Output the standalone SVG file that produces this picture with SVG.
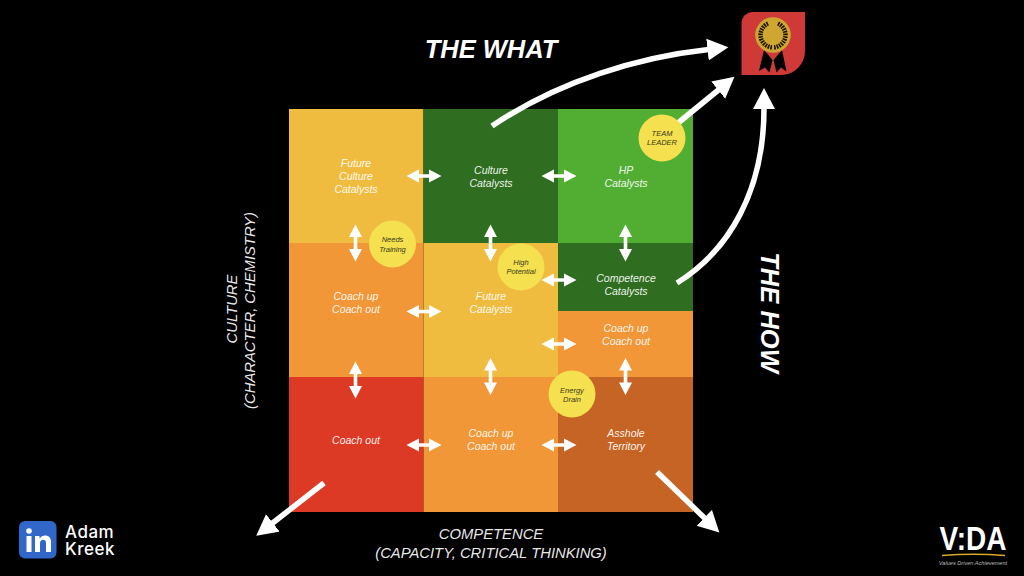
<svg xmlns="http://www.w3.org/2000/svg" width="1024" height="576" viewBox="0 0 1024 576">
<style>
text{font-family:"Liberation Sans",Arial,sans-serif;text-anchor:middle}
.c{font-size:10.5px;font-style:italic;fill:#fff;fill-opacity:.93}
.b{font-size:7.5px;font-style:italic;fill:#3a3a1a}
.h{font-size:25.5px;font-style:italic;font-weight:700;fill:#fff}
.a{font-size:14.8px;font-style:italic;fill:#fff;fill-opacity:.93}
.bub{fill:#f5e050}
.f{fill:none;stroke:#fff;stroke-width:5.5}
.ar{fill:#fff}
.lk{text-anchor:start;font-family:Inter,"Liberation Sans",sans-serif;font-size:17px;font-weight:500;letter-spacing:.5px;fill:#fff}
</style>
<defs>
<path id="dh" d="M-17.5 0L-5 -6.5V-1.8H5V-6.5L17.5 0L5 6.500V1.800H-5V6.500Z"/>
<path id="dv" d="M0 -18.500L6.500 -6H1.800V6H6.500L0 18.500L-6.500 6H-1.800V-6H-6.500Z"/>
<marker id="hd" markerUnits="userSpaceOnUse" markerWidth="24" markerHeight="24" refX="1" refY="11.500" orient="auto"><path d="M0 0.500L21 11.500L0 22.500Z" fill="#fff"/></marker>
</defs>
<rect width="1024" height="576" fill="#000"/>

<g id="cell-future-culture"><rect x="289" y="109" width="134.500" height="134" fill="#f0bc40"/><text class="c" x="356" y="167">Future</text><text class="c" x="356" y="180">Culture</text><text class="c" x="356" y="193">Catalysts</text></g>
<g id="cell-culture"><rect x="423.500" y="109" width="134.500" height="134" fill="#2f6e20"/><text class="c" x="491" y="174">Culture</text><text class="c" x="491" y="187">Catalysts</text></g>
<g id="cell-hp"><rect x="558" y="109" width="135" height="134" fill="#52ae33"/><text class="c" x="626" y="174">HP</text><text class="c" x="626" y="187">Catalysts</text></g>
<g id="cell-coach-1"><rect x="289" y="243" width="134.500" height="134" fill="#f19737"/><text class="c" x="356" y="300">Coach up</text><text class="c" x="356" y="313">Coach out</text></g>
<g id="cell-future"><rect x="423.500" y="243" width="134.500" height="134" fill="#f0bc40"/><text class="c" x="491" y="300">Future</text><text class="c" x="491" y="313">Catalysts</text></g>
<g id="cell-competence"><rect x="558" y="243" width="135" height="68" fill="#2f6e20"/><text class="c" x="626" y="282">Competence</text><text class="c" x="626" y="295">Catalysts</text></g>
<g id="cell-coach-2"><rect x="558" y="311" width="135" height="66" fill="#f19737"/><text class="c" x="626" y="332">Coach up</text><text class="c" x="626" y="345">Coach out</text></g>
<g id="cell-coach-out"><rect x="289" y="377" width="134.500" height="135" fill="#dd3a25"/><text class="c" x="356" y="444">Coach out</text></g>
<g id="cell-coach-3"><rect x="423.500" y="377" width="134.500" height="135" fill="#f19737"/><text class="c" x="491" y="437">Coach up</text><text class="c" x="491" y="450">Coach out</text></g>
<g id="cell-asshole"><rect x="558" y="377" width="135" height="135" fill="#c66425"/><text class="c" x="626" y="437">Asshole</text><text class="c" x="626" y="450">Territory</text></g>

<g id="connectors">
<use href="#dh" class="ar" x="424" y="176"/>
<use href="#dh" class="ar" x="559" y="176"/>
<use href="#dh" class="ar" x="424" y="311.500"/>
<use href="#dh" class="ar" x="559" y="344"/>
<use href="#dh" class="ar" x="559" y="280"/>
<use href="#dh" class="ar" x="424" y="445"/>
<use href="#dh" class="ar" x="559" y="445"/>
<use href="#dv" class="ar" x="355.500" y="243"/>
<use href="#dv" class="ar" x="490.500" y="243"/>
<use href="#dv" class="ar" x="625.500" y="243"/>
<use href="#dv" class="ar" x="355.500" y="380"/>
<use href="#dv" class="ar" x="490.500" y="376.500"/>
<use href="#dv" class="ar" x="625.500" y="376.500"/>
<path class="f" marker-end="url(#hd)" d="M492 126C560 80 640 57 708.500 49.500"/>
<path class="f" marker-end="url(#hd)" d="M678 123L719 89.500"/>
<path class="f" marker-end="url(#hd)" d="M677 283C730 250 764 190 764 108"/>
<path class="f" marker-end="url(#hd)" d="M324 483L272 523.500"/>
<path class="f" marker-end="url(#hd)" d="M657 472L705 518.500"/>
</g>

<g id="bubble-team-leader"><circle class="bub" cx="662" cy="138" r="23.500"/><text class="b" x="662" y="136">TEAM</text><text class="b" x="662" y="145">LEADER</text></g>
<g id="bubble-needs-training"><circle class="bub" cx="392.500" cy="244" r="23.500"/><text class="b" x="392.500" y="242">Needs</text><text class="b" x="392.500" y="251.500">Training</text></g>
<g id="bubble-high-potential"><circle class="bub" cx="521" cy="267" r="23.500"/><text class="b" x="521" y="265">High</text><text class="b" x="521" y="274">Potential</text></g>
<g id="bubble-energy-drain"><circle class="bub" cx="572" cy="394" r="23.500"/><text class="b" x="572" y="393">Energy</text><text class="b" x="572" y="402">Drain</text></g>

<g id="label-what"><text class="h" x="491" y="58">THE WHAT</text></g>
<g id="label-how"><text class="h" transform="translate(761 312.500) rotate(90)">THE HOW</text></g>
<g id="label-culture"><text class="a" transform="translate(236.500 309) rotate(-90)">CULTURE</text><text class="a" transform="translate(255 310.500) rotate(-90)">(CHARACTER, CHEMISTRY)</text></g>
<g id="label-competence"><text class="a" x="491" y="539">COMPETENCE</text><text class="a" x="491" y="558">(CAPACITY, CRITICAL THINKING)</text></g>

<g id="award">
<path d="M753 12H805V51A24 24 0 0 1 781 75H741.500V23.500A11.500 11.500 0 0 1 753 12Z" fill="#cf3a38"/>
<path d="M764 50L759 71L765 67.500L769.500 72.500L772.500 60ZM782 50L786.500 71.500L781 67.500L776.500 72.500L773.500 60Z" fill="#000"/>
<circle cx="773" cy="35" r="17.800" fill="#cfa632"/>
<g fill="none" stroke="#1a1400" stroke-width="4.500" stroke-dasharray="1.600 1"><path d="M768 23.500A12.500 12.500 0 0 0 772 47.400"/><path d="M778 23.500A12.500 12.500 0 0 1 774 47.400"/></g>
</g>

<g id="linkedin">
<rect x="19" y="521" width="37.500" height="37.500" rx="6" fill="#3067c8"/>
<circle cx="29" cy="531" r="2.800" fill="#fff"/>
<rect x="26.500" y="536" width="5" height="16" fill="#fff"/>
<path d="M35 536H39.500V538.500C41 536.500 43 535.500 45 535.500C49 535.500 51 538 51 542V552H46V543C46 541 45 539.800 43.200 539.800C41.200 539.800 40 541 40 543.500V552H35Z" fill="#fff"/>
<text class="lk" x="65" y="537.500">Adam<tspan x="65" dy="17">Kreek</tspan></text>
</g>

<g id="vida">
<text x="973" y="550" style="font-family:'Liberation Sans',sans-serif;font-size:34px;font-weight:700" textLength="67" lengthAdjust="spacingAndGlyphs" fill="#fff">V:DA</text>
<path d="M942 555.500Q973 553 1005 555.500" fill="none" stroke="#d9a928" stroke-width="1.300"/>
<text x="973" y="565" style="font-family:'Liberation Sans',sans-serif;font-size:5.600px;font-style:italic" fill="#bbb">Values Driven Achievement</text>
</g>
</svg>
